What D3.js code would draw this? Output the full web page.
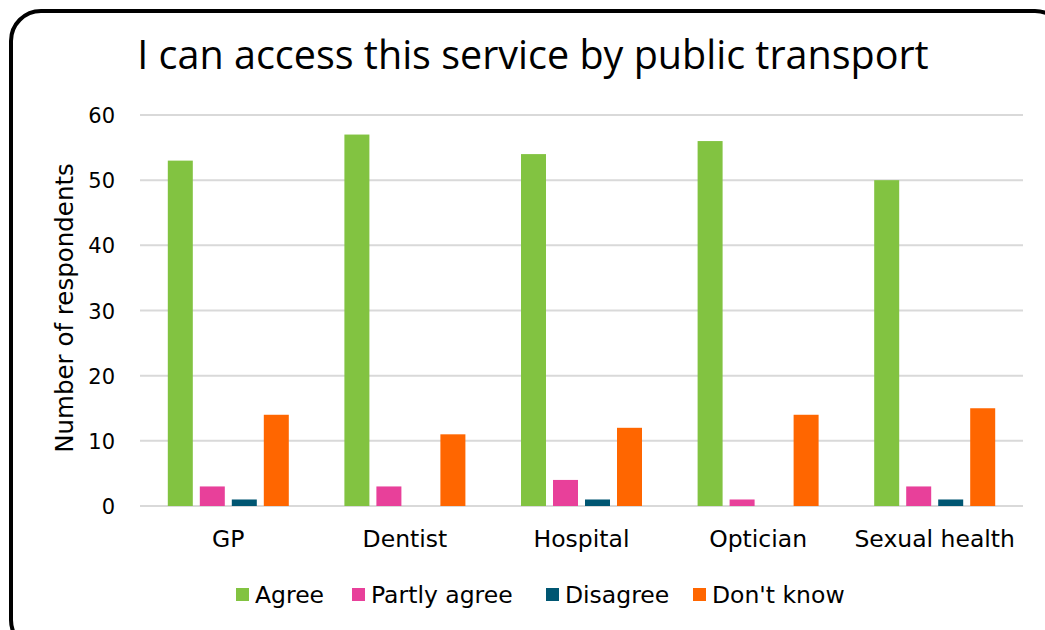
<!DOCTYPE html>
<html>
<head>
<meta charset="utf-8">
<script src="https://cdn.jsdelivr.net/npm/d3@7"></script>
<style>
  html, body { margin: 0; padding: 0; background: #ffffff; }
  svg { display: block; }
</style>
</head>
<body>
<svg id="chart" width="1045" height="630"></svg>
<script>
// Survey answers per service
const categories = ["GP", "Dentist", "Hospital", "Optician", "Sexual health"];
const seriesNames = ["Agree", "Partly agree", "Disagree", "Don't know"];
const agree = [53, 57, 54, 56, 50];
const partlyAgree = [3, 3, 4, 1, 3];
const disagree = [1, 0, 1, 0, 1];
const dontKnow = [14, 11, 12, 14, 15];
const yTicks = [0, 10, 20, 30, 40, 50, 60];
const colors = ["#82c341", "#e8409a", "#005672", "#ff6600"];

const seriesValues = [agree, partlyAgree, disagree, dontKnow];
const rows = categories.map((c, i) => ({
  category: c,
  values: seriesNames.map((s, j) => ({ series: s, value: seriesValues[j][i] }))
}));

const svg = d3.select("#chart");

// Rounded frame
svg.append("rect")
  .attr("x", 11).attr("y", 11)
  .attr("width", 1045 - 11 + 20).attr("height", 630 - 11 + 20)
  .attr("rx", 30).attr("ry", 30)
  .attr("fill", "#ffffff")
  .attr("stroke", "#000000")
  .attr("stroke-width", 4);

const plot = { left: 140, right: 1023, top: 115, bottom: 506 };
const groupWidth = 121;

const x0 = d3.scaleBand().domain(categories).range([plot.left, plot.right]).paddingInner(0).paddingOuter(0);
const x1 = d3.scaleBand().domain(seriesNames).range([0, groupWidth]).paddingInner(7 / 32).paddingOuter(0);
const y = d3.scaleLinear().domain([0, 60]).range([plot.bottom, plot.top]);

// Gridlines
svg.append("g")
  .selectAll("line")
  .data(yTicks)
  .join("line")
  .attr("x1", plot.left).attr("x2", plot.right)
  .attr("y1", d => y(d)).attr("y2", d => y(d))
  .attr("stroke", "#d9d9d9")
  .attr("stroke-width", 2);

// Bars
const groups = svg.append("g")
  .selectAll("g")
  .data(rows)
  .join("g")
  .attr("transform", d => `translate(${x0(d.category) + x0.bandwidth() / 2 - groupWidth / 2},0)`);

groups.selectAll("rect")
  .data(d => d.values.filter(v => v.value > 0))
  .join("rect")
  .attr("x", d => x1(d.series))
  .attr("width", x1.bandwidth())
  .attr("y", d => y(d.value))
  .attr("height", d => y(0) - y(d.value))
  .attr("fill", d => colors[seriesNames.indexOf(d.series)]);

const font = "'DejaVu Sans', sans-serif";

// Y axis
const yAxis = d3.axisLeft(y).tickValues(yTicks).tickSize(0).tickPadding(0);
const yG = svg.append("g").attr("transform", `translate(115,0)`).call(yAxis);
yG.select(".domain").remove();
yG.selectAll("text")
  .attr("font-family", font)
  .attr("font-size", 21)
  .attr("fill", "#000")
  .attr("dy", "0.36em");

// X axis
const xAxis = d3.axisBottom(x0).tickSize(0).tickPadding(0);
const xG = svg.append("g").attr("transform", `translate(0,547)`).call(xAxis);
xG.select(".domain").remove();
xG.selectAll("text")
  .attr("font-family", font)
  .attr("font-size", 23.5)
  .attr("fill", "#000")
  .attr("y", 0)
  .attr("dy", null);

// Y axis title
svg.append("text")
  .attr("transform", `translate(73,308) rotate(-90)`)
  .attr("text-anchor", "middle")
  .attr("font-family", font)
  .attr("font-size", 24.5)
  .attr("fill", "#000")
  .text("Number of respondents");

// Title
svg.append("text")
  .attr("x", 533).attr("y", 69)
  .attr("text-anchor", "middle")
  .attr("font-family", "'Open Sans', sans-serif")
  .attr("font-size", 39.5)
  .attr("fill", "#000")
  .text("I can access this service by public transport");

// Legend
const legendX = [236, 352, 546, 693];
const legend = svg.append("g")
  .selectAll("g")
  .data(seriesNames)
  .join("g")
  .attr("transform", (d, i) => `translate(${legendX[i]},0)`);
legend.append("rect")
  .attr("x", 0).attr("y", 588)
  .attr("width", 13).attr("height", 13)
  .attr("fill", (d, i) => colors[i]);
legend.append("text")
  .attr("x", 19).attr("y", 603)
  .attr("font-family", font)
  .attr("font-size", 23.5)
  .attr("fill", "#000")
  .text(d => d);
</script>
</body>
</html>
